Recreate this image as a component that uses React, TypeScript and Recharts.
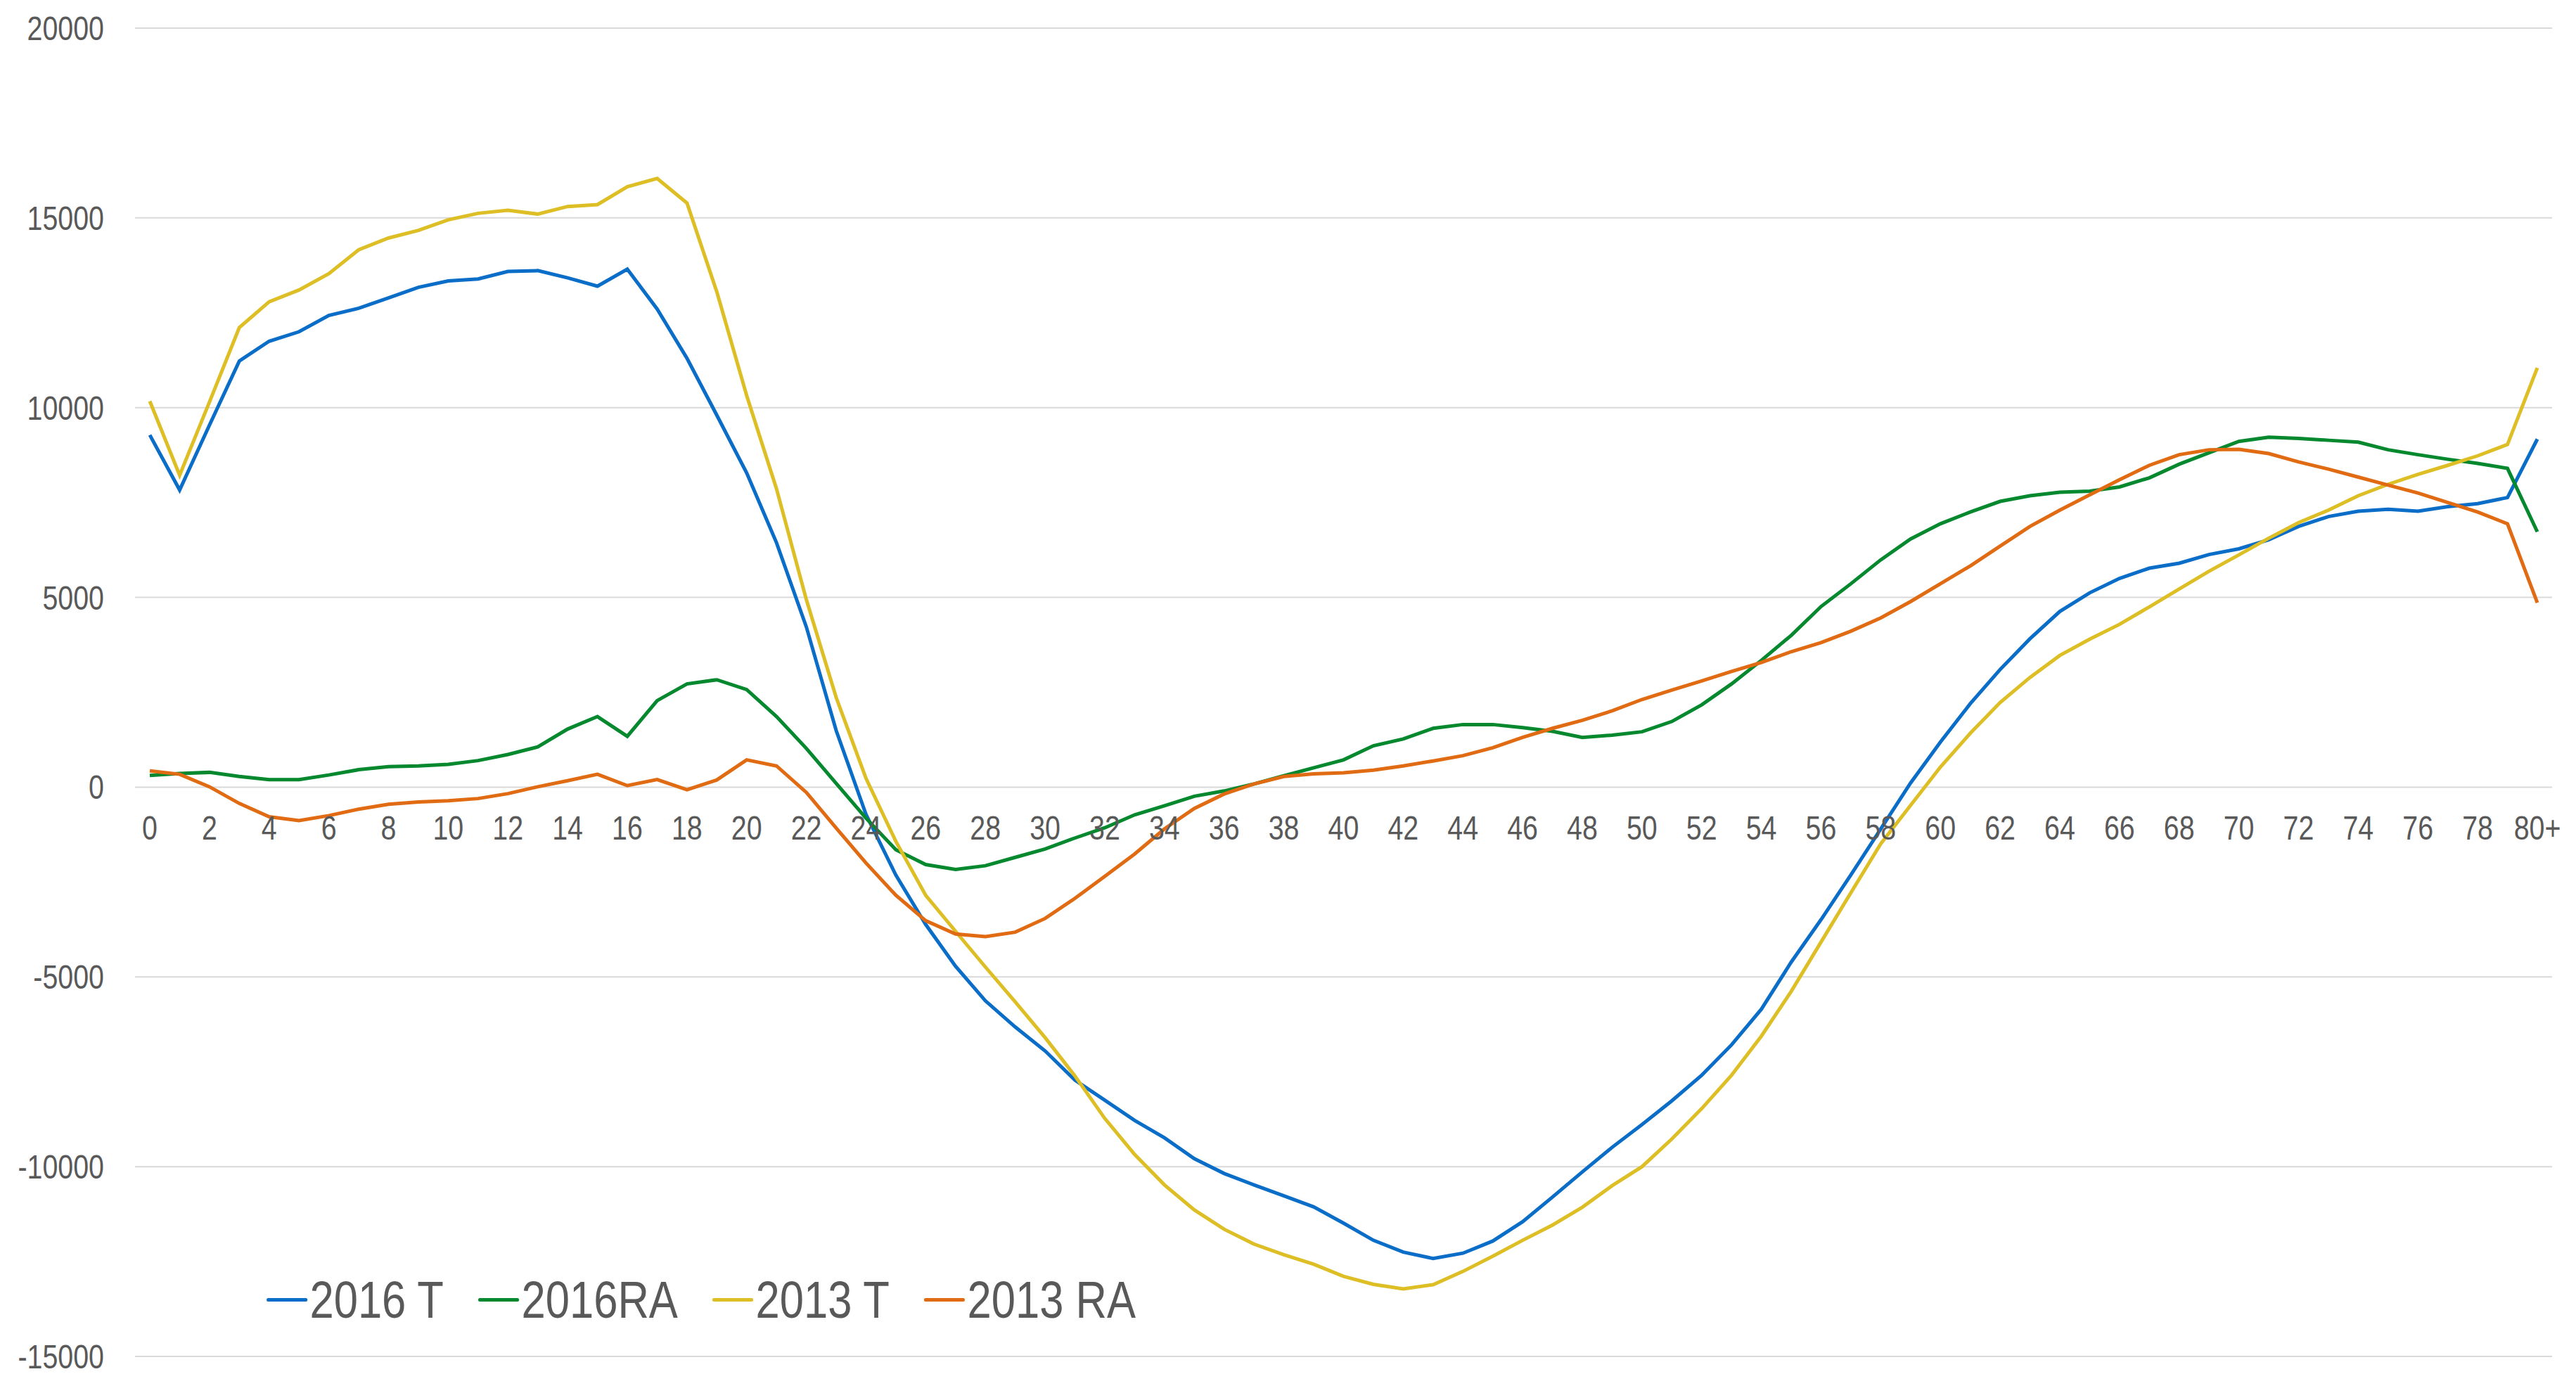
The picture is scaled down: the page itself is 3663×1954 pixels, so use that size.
import React from "react";
import {
  LineChart,
  Line,
  XAxis,
  YAxis,
  CartesianGrid,
  Legend,
} from "recharts";

const ages = [
  ...Array.from({ length: 80 }, (_, i) => String(i)),
  "80+",
];

const t2016 = [
  9280, 7830, 9540, 11230, 11750, 12000, 12430, 12620, 12890, 13170,
  13340, 13390, 13590, 13610, 13420, 13200, 13650, 12600, 11300, 9800,
  8280, 6440, 4220, 1490, -720, -2320, -3620, -4720, -5630, -6320,
  -6950, -7720, -8250, -8780, -9240, -9790, -10180, -10480, -10770, -11060,
  -11490, -11940, -12250, -12420, -12280, -11960, -11450, -10800, -10140, -9490,
  -8890, -8265, -7590, -6790, -5850, -4610, -3490, -2310, -1100, 110,
  1190, 2200, 3100, 3910, 4630, 5120, 5500, 5770, 5900, 6130,
  6280, 6520, 6870, 7130, 7270, 7320, 7270, 7390, 7470, 7630,
  9170,
];

const ra2016 = [
  310, 360, 390, 280, 200, 200, 320, 460, 540, 560,
  600, 700, 860, 1060, 1530, 1860, 1340, 2280, 2720, 2830,
  2570, 1860, 1020, 100, -820, -1650, -2040, -2170, -2070, -1850,
  -1630, -1340, -1070, -730, -490, -240, -100, 85, 300, 510,
  720, 1090, 1270, 1550, 1650, 1650, 1570, 1470, 1310, 1370,
  1460, 1730, 2170, 2720, 3340, 4000, 4760, 5360, 5990, 6540,
  6940, 7250, 7530, 7680, 7770, 7800, 7910, 8150, 8510, 8810,
  9110, 9220, 9190, 9140, 9090, 8890, 8760, 8640, 8530, 8400,
  6730,
];

const t2013 = [
  10170, 8220, 10150, 12110, 12790, 13100, 13530, 14160, 14470, 14670,
  14950, 15120, 15200, 15100, 15300, 15350, 15820, 16040, 15390, 13050,
  10320, 7860, 4940, 2360, 230, -1430, -2850, -3800, -4740, -5660,
  -6600, -7610, -8730, -9680, -10480, -11140, -11650, -12040, -12320, -12570,
  -12890, -13100, -13220, -13110, -12760, -12360, -11940, -11540, -11070, -10500,
  -10000, -9270, -8470, -7590, -6560, -5380, -4080, -2780, -1490, -480,
  530, 1420, 2230, 2890, 3470, 3900, 4290, 4750, 5220, 5690,
  6120, 6560, 6970, 7300, 7680, 7980, 8240, 8480, 8730, 9030,
  11050,
];

const ra2013 = [
  430, 340, 10, -430, -780, -880, -750, -580, -450, -390,
  -360, -300, -170, 10, 170, 340, 40, 200, -70, 190,
  720, 560, -140, -1080, -2000, -2850, -3520, -3870, -3940, -3820,
  -3460, -2930, -2350, -1760, -1100, -560, -180, 85, 280, 350,
  380, 450, 560, 690, 830, 1040, 1310, 1550, 1760, 2010,
  2310, 2560, 2800, 3050, 3285, 3570, 3810, 4110, 4460, 4890,
  5360, 5830, 6350, 6870, 7300, 7700, 8100, 8480, 8760, 8890,
  8900, 8790, 8570, 8380, 8170, 7960, 7750, 7500, 7250, 6940,
  4860,
];

const yTicks = [-15000, -10000, -5000, 0, 5000, 10000, 15000, 20000];

const series = [
  { key: "t2016", name: "2016 T", color: "#0A6DC8" },
  { key: "ra2016", name: "2016RA", color: "#05882E" },
  { key: "t2013", name: "2013 T", color: "#DDBE25" },
  { key: "ra2013", name: "2013 RA", color: "#E06B12" },
];

const data = ages.map((age, i) => ({
  age,
  t2016: t2016[i],
  ra2016: ra2016[i],
  t2013: t2013[i],
  ra2013: ra2013[i],
}));

const W = 3663;
const H = 1954;
const X_AXIS_H = 25;
const MARGIN = { top: 40, right: 34, bottom: 0, left: 0 };
const Y_MIN = -15000;
const Y_MAX = 20000;
const PLOT_H = H - MARGIN.top - MARGIN.bottom - X_AXIS_H;
// pixel row of the zero line, where Excel puts the category labels
const ZERO_Y = MARGIN.top + (PLOT_H * Y_MAX) / (Y_MAX - Y_MIN);

// no Arial Narrow here, so squeeze Liberation Sans sideways
const FONT = "'Liberation Sans', Arial, sans-serif";
const NARROW = 0.82;
const TEXT = "#595959";

const AgeTick = (props: any) => {
  const { x, payload } = props;
  return (
    <text
      transform={`translate(${x},${ZERO_Y + 40}) scale(${NARROW},1)`}
      dy="0.71em"
      textAnchor="middle"
      fontSize={48}
      fontFamily={FONT}
      fill={TEXT}
    >
      {payload.value}
    </text>
  );
};

const ValueTick = (props: any) => {
  const { x, y, payload } = props;
  return (
    <text
      transform={`translate(${x},${y}) scale(${NARROW},1)`}
      dy="0.355em"
      textAnchor="end"
      fontSize={48}
      fontFamily={FONT}
      fill={TEXT}
    >
      {payload.value}
    </text>
  );
};

const renderLegend = () => (
  <div
    style={{
      display: "flex",
      alignItems: "center",
      height: 100,
      transform: `scaleX(${NARROW})`,
      transformOrigin: "left center",
    }}
  >
    {series.map((s, i) => (
      <div
        key={s.key}
        style={{
          display: "flex",
          alignItems: "center",
          marginLeft: i === 0 ? 0 : 60,
        }}
      >
        <div
          style={{
            width: 71,
            height: 5,
            borderRadius: 3,
            background: s.color,
          }}
        />
        <span
          style={{
            marginLeft: 4,
            fontFamily: FONT,
            fontSize: 75,
            lineHeight: 1,
            color: TEXT,
            whiteSpace: "nowrap",
          }}
        >
          {s.name}
        </span>
      </div>
    ))}
  </div>
);

export default function App() {
  return (
    <div style={{ position: "absolute", left: 0, top: 0, background: "#fff" }}>
      <LineChart width={W} height={H} data={data} margin={MARGIN}>
        <CartesianGrid
          horizontal
          vertical={false}
          stroke="#D9D9D9"
          strokeWidth={2}
        />
        <XAxis
          dataKey="age"
          interval={1}
          height={X_AXIS_H}
          axisLine={false}
          tickLine={false}
          padding={{ left: 21, right: 21 }}
          tick={<AgeTick />}
        />
        <YAxis
          width={192}
          domain={[Y_MIN, Y_MAX]}
          ticks={yTicks}
          axisLine={false}
          tickLine={false}
          tickSize={0}
          tickMargin={44}
          tick={<ValueTick />}
          interval={0}
        />
        <Legend
          layout="horizontal"
          verticalAlign="middle"
          align="center"
          content={renderLegend}
          wrapperStyle={{ left: 379, top: 1798, width: "auto", height: 100 }}
        />
        {series.map((s) => (
          <Line
            key={s.key}
            dataKey={s.key}
            name={s.name}
            stroke={s.color}
            strokeWidth={5}
            dot={false}
            isAnimationActive={false}
          />
        ))}
      </LineChart>
    </div>
  );
}
